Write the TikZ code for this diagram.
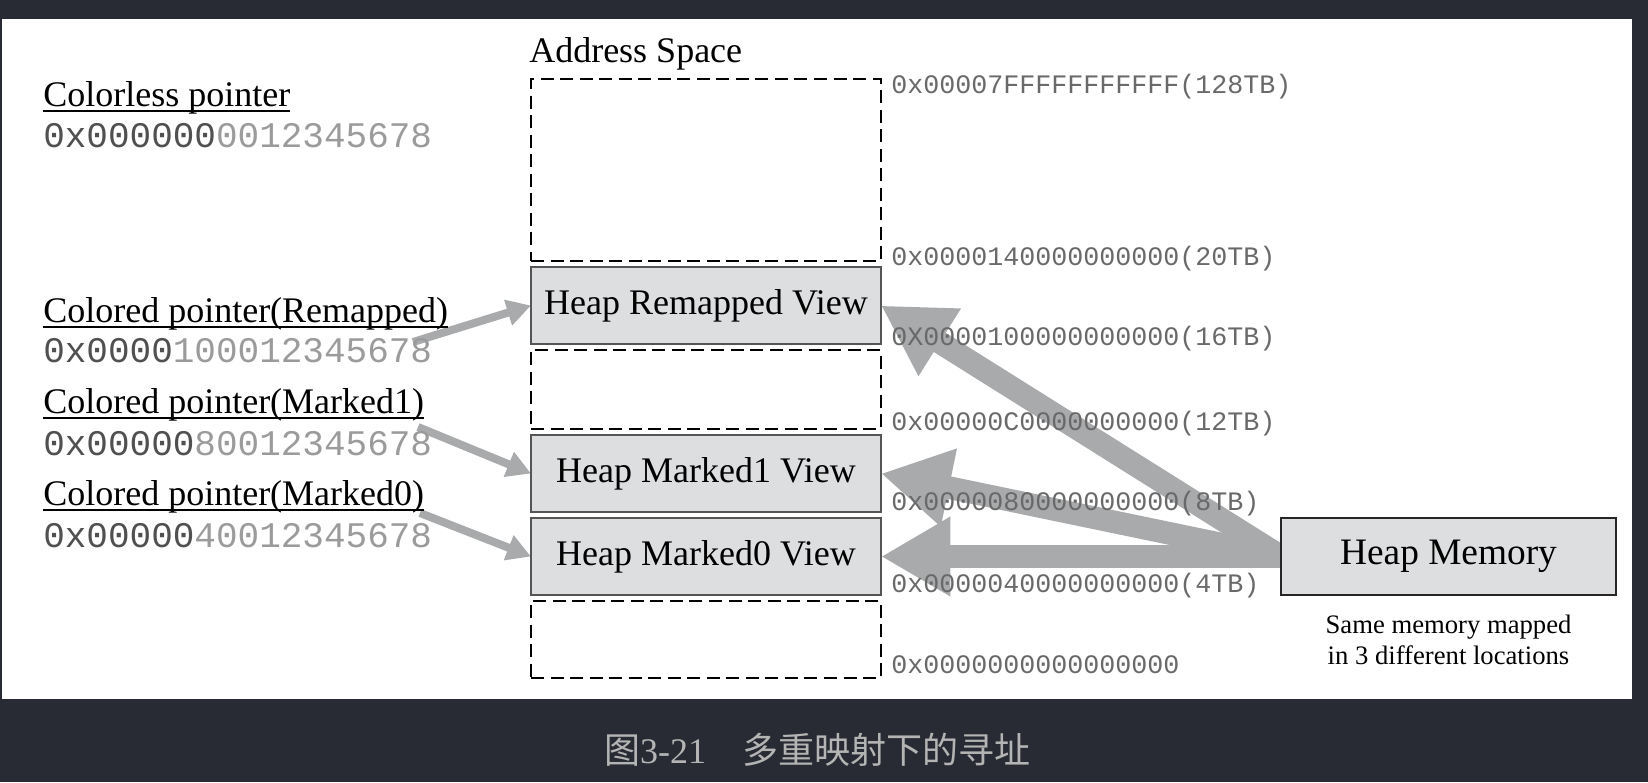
\documentclass[tikz,border=0pt]{standalone}
\usepackage{fontspec}
\setmainfont{Liberation Serif}
\setmonofont{Liberation Mono}
\newfontfamily\cjk{Noto Sans CJK SC}
\usetikzlibrary{positioning,arrows.meta,backgrounds}
\definecolor{pagebg}{RGB}{40,43,51}
\definecolor{viewfill}{RGB}{220,222,223}
\definecolor{viewline}{RGB}{85,85,85}
\definecolor{arrowgray}{RGB}{168,170,172}
\definecolor{hexdark}{RGB}{80,80,80}
\definecolor{hexlight}{RGB}{155,155,155}
\definecolor{addrgray}{RGB}{105,105,105}
\definecolor{capgray}{RGB}{180,180,180}
\newcommand{\ulined}[1]{\sbox0{#1}\rlap{\rule[-4.5pt]{\wd0}{1.5pt}}\usebox0}
\newcommand{\hexptr}[2]{\textcolor{hexdark}{#1}\textcolor{hexlight}{#2}}

\begin{document}
\begin{tikzpicture}[x=0.75pt,y=-0.75pt,node distance=4.5pt,
  viewbox/.style={draw=viewline,fill=viewfill,line width=1.6pt,minimum width=262.5pt,minimum height=57.75pt,inner sep=0pt,outer sep=0pt,font=\fontsize{27}{32}\selectfont},
  freebox/.style={draw,dash pattern=on 9.75pt off 4.9pt,line width=1pt,minimum width=262.5pt,minimum height=57.75pt,inner sep=0pt,outer sep=0pt},
  ptrlabel/.style={anchor=base west,inner sep=0pt,font=\fontsize{27}{32}\selectfont},
  hexlabel/.style={anchor=base west,inner sep=0pt,font=\ttfamily\fontsize{27}{32}\selectfont},
  addr/.style={anchor=base west,inner sep=0pt,text=addrgray,font=\ttfamily\fontsize{20}{24}\selectfont},
  ptrarrow/.style={draw=arrowgray,line width=6pt,-{Triangle[length=18pt,width=19pt]}},
  maparrow/.style={draw=arrowgray,line width=17pt,-{Triangle[length=52pt,width=56pt]}}]
  \useasboundingbox (0,0) rectangle (1648,782);
  \begin{pgfonlayer}{background}
    \fill[pagebg] (0,0) rectangle (1648,782);
    \fill[white] (2,19) rectangle (1632,699);
  \end{pgfonlayer}

  \node[ptrlabel] (addrspace) at (529,62) {Address Space};
  \node[freebox,minimum height=136.5pt,anchor=north west] (top) at (531,79) {};
  \node[viewbox] (remapped) [below=of top] {Heap Remapped View};
  \node[freebox,minimum height=59.25pt] (gap) [below=of remapped] {};
  \node[viewbox] (marked1) [below=of gap] {Heap Marked1 View};
  \node[viewbox] (marked0) [below=of marked1] {Heap Marked0 View};
  \node[freebox] (low) [below=of marked0] {};

  \node[viewbox,draw=black!85,line width=1.4pt,minimum width=251.25pt,font=\fontsize{28}{32}\selectfont] (heap) [right=300pt of marked0] {Heap Memory};
  \node[inner sep=0pt,align=center,font=\fontsize{20}{23.25}\selectfont] (note) [below=14.5pt of heap] {Same memory mapped\\in 3 different locations};

  \node[ptrlabel] (colorless) at (43,106) {\ulined{Colorless pointer}};
  \node[hexlabel] (colorlesshex) at (43,147) {\hexptr{0x000000}{0012345678}};
  \node[ptrlabel] (remapptr) at (43,322) {\ulined{Colored pointer(Remapped)}};
  \node[hexlabel] (remaphex) at (43,362) {\hexptr{0x0000}{100012345678}};
  \node[ptrlabel] (mark1ptr) at (43,413) {\ulined{Colored pointer(Marked1)}};
  \node[hexlabel] (mark1hex) at (43,455) {\hexptr{0x00000}{80012345678}};
  \node[ptrlabel] (mark0ptr) at (43,505) {\ulined{Colored pointer(Marked0)}};
  \node[hexlabel] (mark0hex) at (43,547) {\hexptr{0x00000}{40012345678}};

  \coordinate (rfrom) at (413,342);
  \coordinate (m1from) at (418,427);
  \coordinate (m0from) at (420,513);

  \begin{pgfonlayer}{background}
    \path[ptrarrow] (rfrom) -- (remapped.west);
    \path[ptrarrow] (m1from) -- (marked1.west);
    \path[ptrarrow] (m0from) -- (marked0.west);
    \path[maparrow] (heap.west) -- (remapped.east);
    \path[maparrow] (heap.west) -- (marked1.east);
    \path[maparrow] (heap.west) -- (marked0.east);
  \end{pgfonlayer}

  \node[addr] (a128) at (891,93) {0x00007FFFFFFFFFFF(128TB)};
  \node[addr] (a20) at (891,265) {0x0000140000000000(20TB)};
  \node[addr] (a16) at (891,345) {0X0000100000000000(16TB)};
  \node[addr] (a12) at (891,430) {0x00000C0000000000(12TB)};
  \node[addr] (a8) at (891,510) {0x0000080000000000(8TB)};
  \node[addr] (a4) at (891,592) {0x0000040000000000(4TB)};
  \node[addr] (a0) at (891,673) {0x0000000000000000};

  \node[text=capgray,font=\fontsize{27}{32}\selectfont] (caption) at (817,750) {{\cjk 图}3-21\hspace{1em}{\cjk 多重映射下的寻址}};
\end{tikzpicture}
\end{document}
